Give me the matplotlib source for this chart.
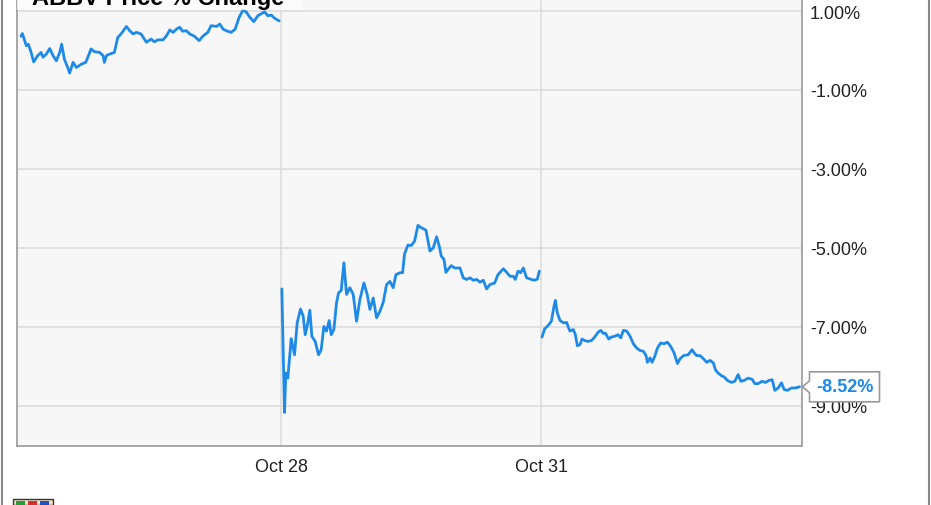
import numpy as np
import matplotlib
matplotlib.use("Agg")
import matplotlib.pyplot as plt
from matplotlib.patches import Rectangle, Polygon
from matplotlib.lines import Line2D
from matplotlib.transforms import IdentityTransform

plt.rcParams['font.family'] = ['Liberation Sans', 'DejaVu Sans']

title = "ABBV Price % Change"
tick_days = ["Oct 28", "Oct 31"]
ytick_vals = [1, -1, -3, -5, -7, -9]
ytick_labels = ["1.00%", "-1.00%", "-3.00%", "-5.00%", "-7.00%", "-9.00%"]
last_label = "-8.52%"

# minutes since the open, % change  (one list pair per session)
day1_min = [0, 2, 8, 11, 15, 19, 25, 30, 33, 38, 43, 48, 53, 58, 61, 65, 70, 73, 78, 83,
            90, 97, 100, 105, 110, 118, 123, 125, 128, 133, 140, 145, 150, 158, 163, 168,
            173, 180, 188, 195, 200, 205, 213, 218, 223, 228, 233, 238, 242, 248, 253, 260,
            267, 273, 280, 285, 293, 298, 303, 308, 315, 321, 327, 333, 338, 343, 349, 355,
            365, 370, 375, 380, 387]
day1_pct = [0.36, 0.43, 0.12, 0.16, -0.04, -0.29, -0.13, -0.05, -0.17, -0.09, 0.05, -0.13,
            -0.26, -0.05, 0.16, -0.22, -0.43, -0.57, -0.30, -0.43, -0.35, -0.30, -0.18, 0.04,
            -0.03, -0.05, -0.13, -0.30, -0.13, -0.09, -0.05, 0.33, 0.42, 0.61, 0.50, 0.42,
            0.46, 0.42, 0.21, 0.29, 0.22, 0.27, 0.27, 0.37, 0.52, 0.46, 0.54, 0.59, 0.49,
            0.50, 0.42, 0.36, 0.25, 0.37, 0.46, 0.63, 0.61, 0.67, 0.54, 0.50, 0.46, 0.54,
            0.84, 1.03, 0.97, 0.84, 0.73, 0.88, 0.98, 0.88, 0.90, 0.82, 0.75]

day2_min = [1, 5, 7, 10, 15, 20, 24, 29, 33, 36, 39, 43, 46, 51, 56, 60, 64, 68, 72, 75,
            79, 83, 86, 90, 94, 98, 103, 108, 113, 118, 124, 129, 133, 138, 143, 148, 153,
            158, 163, 168, 172, 178, 182, 185, 190, 195, 200, 205, 210, 217, 223, 228, 233,
            237, 240, 244, 247, 250, 255, 260, 268, 273, 278, 283, 288, 293, 298, 303, 308,
            313, 320, 325, 333, 338, 343, 348, 351, 355, 359, 363, 368, 375, 380, 384, 387]
day2_pct = [-6.04, -9.17, -8.17, -8.30, -7.30, -7.71, -6.90, -6.55, -6.73, -7.20, -6.99,
            -6.58, -7.24, -7.37, -7.71, -7.58, -6.99, -7.11, -6.84, -7.20, -7.07, -6.39,
            -6.14, -6.08, -5.38, -6.18, -6.01, -6.18, -6.86, -6.31, -5.89, -6.18, -6.56,
            -6.27, -6.77, -6.61, -6.38, -5.93, -5.85, -6.01, -5.68, -5.63, -5.63, -5.15,
            -4.93, -4.94, -4.83, -4.43, -4.49, -4.55, -5.08, -5.00, -4.72, -4.96, -5.21,
            -5.29, -5.62, -5.55, -5.45, -5.51, -5.51, -5.76, -5.80, -5.76, -5.82, -5.80,
            -5.87, -5.82, -6.04, -5.93, -5.89, -5.68, -5.53, -5.62, -5.72, -5.72, -5.80,
            -5.59, -5.63, -5.51, -5.76, -5.80, -5.82, -5.79, -5.59]

day3_min = [1, 5, 10, 15, 19, 21, 24, 28, 33, 38, 40, 43, 48, 51, 54, 58, 61, 65, 70, 75,
            80, 85, 89, 93, 96, 101, 105, 110, 115, 119, 123, 128, 133, 138, 143, 148, 153,
            157, 159, 163, 166, 170, 174, 179, 184, 189, 194, 199, 204, 208, 213, 220, 226,
            229, 233, 238, 243, 248, 253, 258, 261, 265, 270, 274, 279, 285, 290, 295, 299,
            304, 310, 316, 320, 325, 331, 336, 341, 346, 350, 355, 360, 364, 369, 375, 381,
            387]
day3_pct = [-7.26, -7.05, -6.97, -6.86, -6.48, -6.33, -6.65, -6.84, -6.90, -6.89, -6.99,
            -7.11, -7.07, -7.20, -7.48, -7.45, -7.31, -7.35, -7.37, -7.35, -7.26, -7.14,
            -7.09, -7.17, -7.16, -7.31, -7.26, -7.24, -7.20, -7.28, -7.09, -7.11, -7.24,
            -7.43, -7.54, -7.60, -7.62, -7.73, -7.90, -7.79, -7.90, -7.75, -7.54, -7.41,
            -7.43, -7.39, -7.50, -7.66, -7.93, -7.81, -7.73, -7.71, -7.58, -7.66, -7.73,
            -7.73, -7.81, -7.90, -7.85, -7.92, -8.09, -8.17, -8.24, -8.27, -8.36, -8.41,
            -8.38, -8.21, -8.38, -8.36, -8.30, -8.33, -8.44, -8.44, -8.38, -8.41, -8.36,
            -8.34, -8.61, -8.55, -8.42, -8.59, -8.61, -8.55, -8.55, -8.52]

sessions = [(day1_min, day1_pct), (day2_min, day2_pct), (day3_min, day3_pct)]
session_len = 390.0

blue = '#1e8ae8'
grid_c = '#dddddd'
W, H = 931, 506

fig = plt.figure(figsize=(W / 100, H / 100), dpi=100)
fig.patch.set_facecolor('white')
ax = fig.add_axes([16.5 / W, 59 / H, 785 / W, 447 / H])
ax.set_facecolor('#f7f7f7')

for d, (mins, pct) in enumerate(sessions):
    x = d + np.array(mins) / session_len
    ax.plot(x, pct, color=blue, lw=2.0, solid_joinstyle='round',
            solid_capstyle='round', zorder=3)

ax.set_xlim(-4.5 / 260, 3.0)
ax.set_ylim(-10.02, 1.305)

ax.set_xticks([1, 2])
ax.set_xticklabels(tick_days)
ax.set_yticks(ytick_vals)
ax.set_yticklabels(ytick_labels)
ax.yaxis.tick_right()
ax.tick_params(axis='both', length=0, labelsize=13, colors='#222222')
ax.tick_params(axis='y', pad=6)
ax.tick_params(axis='x', pad=9)
ax.grid(True, color=grid_c, lw=1.2, zorder=0)
ax.set_axisbelow(True)

for side in ['left', 'right', 'bottom']:
    ax.spines[side].set_color('#999999')
    ax.spines[side].set_linewidth(1.2)
ax.spines['top'].set_visible(False)

# title box, partly cut off at the top
fig.add_artist(Rectangle((17 / W, 1 - 11 / H), 285 / W, 11 / H, transform=fig.transFigure,
                         facecolor='white', edgecolor='none', alpha=0.75, zorder=5))
fig.text(32 / W, 1 - 5 / H, title, fontsize=17, fontweight='bold', color='black',
         ha='left', va='baseline', zorder=6)

# outer frame
fig.add_artist(Line2D([1.5 / W, 1.5 / W], [0, 1], color='#888888', lw=1.5))
fig.add_artist(Line2D([929 / W, 929 / W], [0, 1], color='#888888', lw=1.5))

# last value callout
fig.canvas.draw()
tx, ty = ax.transData.transform((3.0, day3_pct[-1]))
tx += 1
pts = [(tx, ty), (tx + 7, ty + 6), (tx + 7, ty + 15), (tx + 77, ty + 15),
       (tx + 77, ty - 15), (tx + 7, ty - 15), (tx + 7, ty - 6)]
fig.add_artist(Polygon(pts, closed=True, transform=IdentityTransform(),
                       facecolor='white', edgecolor='#999999', lw=1.2, zorder=7))
fig.text((tx + 42) / W, ty / H, last_label, color=blue, fontsize=13, fontweight='bold',
         ha='center', va='center', zorder=8)

# small logo at bottom left, mostly cut off
fig.add_artist(Rectangle((13 / W, 0), 40 / W, 6 / H, transform=fig.transFigure,
                         facecolor='#f0e0c0', edgecolor='#333333', lw=1, zorder=5))
for i, c in enumerate(['#2a9a3a', '#d03030', '#2050c0']):
    fig.add_artist(Rectangle(((16 + i * 12) / W, 0), 9 / W, 4 / H, transform=fig.transFigure,
                             facecolor=c, edgecolor='none', zorder=6))

fig.savefig("out.png", dpi=100)
